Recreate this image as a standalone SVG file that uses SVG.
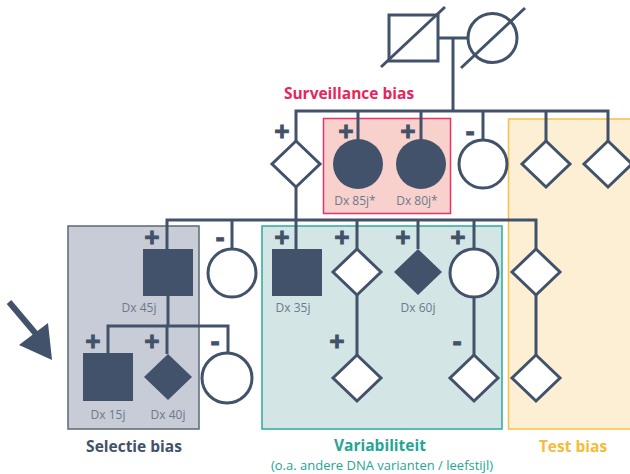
<svg xmlns="http://www.w3.org/2000/svg" width="630" height="474" viewBox="0 0 630 474">
  <style>
    .ln { fill: none; stroke: #41526a; stroke-width: 3; }
    .open { fill: #ffffff; stroke: #41526a; stroke-width: 3; }
    .aff { fill: #41526a; stroke: none; }
    .sign { font-family: "Open Sans", "Liberation Sans", sans-serif; font-weight: bold; font-size: 27px; fill: #41526a; stroke: #41526a; stroke-width: 0.8; text-anchor: middle; }
    .dx { font-family: "Open Sans", "Liberation Sans", sans-serif; font-size: 12px; fill: #6b7a8c; text-anchor: middle; }
    .cap { font-family: "Open Sans", "Liberation Sans", sans-serif; font-weight: bold; font-size: 15.5px; text-anchor: middle; }
    .sub { font-family: "Open Sans", "Liberation Sans", sans-serif; font-size: 13px; fill: #26a594; text-anchor: middle; }
  </style>
  <defs>
    <path id="dia" d="M0,-23 L24,0 L0,23 L-24,0 Z"/>
  </defs>

  <rect width="630" height="474" fill="#ffffff"/>

  <!-- bias areas -->
  <g id="area-selectie">
    <rect x="68" y="226" width="131" height="203" fill="#c8ccd6" stroke="#5b6778" stroke-width="1.5"/>
    <text class="cap" x="134" y="452" fill="#41526a">Selectie bias</text>
  </g>
  <g id="area-surveillance">
    <rect x="323.5" y="118.5" width="127" height="95" fill="#f8d1cd" stroke="#e8336a" stroke-width="1.5"/>
    <text class="cap" x="349" y="99" fill="#e8245a">Surveillance bias</text>
  </g>
  <g id="area-variabiliteit">
    <rect x="262" y="226" width="240" height="203" fill="#d3e6e5" stroke="#2aab9b" stroke-width="1.5"/>
    <text class="cap" x="380" y="451" fill="#26a594">Variabiliteit</text>
    <text class="sub" x="382" y="470">(o.a. andere DNA varianten / leefstijl)</text>
  </g>
  <g id="area-test">
    <rect x="508.5" y="119" width="130" height="310" fill="#fdefd4" stroke="#f7c04a" stroke-width="1.5"/>
    <text class="cap" x="573" y="452" fill="#f5bc3a">Test bias</text>
  </g>

  <!-- connectors -->
  <g id="connectors">
    <path class="ln" d="M438,38 H468 M453,38 V111"/>
    <path class="ln" d="M296,141 V111 H608 V141 M358,111 V140 M421,111 V140 M483,111 V140 M546,111 V141"/>
    <path class="ln" d="M296,186 V249"/>
    <path class="ln" d="M167,249 V220 H536 V249 M232,220 V249 M357,220 V249 M418,220 V249 M474,220 V249"/>
    <path class="ln" d="M168,296 V326 M108,353 V326 H228 V354 M167,326 V354"/>
    <path class="ln" d="M357,295 V355 M474,297 V355 M536,295 V355"/>
  </g>

  <!-- grandparents -->
  <g id="grandfather">
    <rect class="open" x="389" y="15" width="49" height="46"/>
    <path class="ln" d="M381,67 L445,7"/>
  </g>
  <g id="grandmother">
    <circle class="open" cx="492.5" cy="38" r="24.5"/>
    <path class="ln" d="M461,68 L525,8"/>
  </g>

  <!-- second generation -->
  <g id="g2-1"><use href="#dia" class="open" x="296" y="164"/><text class="sign" x="282" y="141">+</text></g>
  <g id="g2-2"><circle class="aff" cx="358" cy="164" r="25"/><text class="sign" x="346" y="141">+</text><text class="dx" x="355" y="205">Dx 85j*</text></g>
  <g id="g2-3"><circle class="aff" cx="421" cy="164" r="25"/><text class="sign" x="408" y="141">+</text><text class="dx" x="417" y="205">Dx 80j*</text></g>
  <g id="g2-4"><circle class="open" cx="483" cy="164" r="24"/><text class="sign" x="470" y="141">-</text></g>
  <g id="g2-5"><use href="#dia" class="open" x="546" y="164"/></g>
  <g id="g2-6"><use href="#dia" class="open" x="608" y="164"/></g>

  <!-- third generation -->
  <g id="g3-1"><rect class="aff" x="143" y="249" width="50" height="47"/><text class="sign" x="152" y="247">+</text><text class="dx" x="139" y="312">Dx 45j</text></g>
  <g id="g3-2"><circle class="open" cx="232" cy="273" r="24"/><text class="sign" x="220" y="247">-</text></g>
  <g id="g3-3"><rect class="aff" x="272" y="249" width="50" height="47"/><text class="sign" x="282" y="247">+</text><text class="dx" x="293" y="312">Dx 35j</text></g>
  <g id="g3-4"><use href="#dia" class="open" x="357" y="272"/><text class="sign" x="342" y="247">+</text></g>
  <g id="g3-5"><use href="#dia" class="aff" x="418" y="272"/><text class="sign" x="403" y="247">+</text><text class="dx" x="418" y="312">Dx 60j</text></g>
  <g id="g3-6"><circle class="open" cx="474" cy="273" r="24"/><text class="sign" x="458" y="247">+</text></g>
  <g id="g3-7"><use href="#dia" class="open" x="536" y="272"/></g>

  <!-- fourth generation -->
  <g id="g4-1"><rect class="aff" x="83" y="353" width="50" height="48"/><text class="sign" x="93" y="351">+</text><text class="dx" x="108" y="419">Dx 15j</text></g>
  <g id="g4-2"><use href="#dia" class="aff" x="168" y="377"/><text class="sign" x="152" y="351">+</text><text class="dx" x="168" y="419">Dx 40j</text></g>
  <g id="g4-3"><circle class="open" cx="227" cy="378" r="25"/><text class="sign" x="215" y="351">-</text></g>
  <g id="g4-4"><use href="#dia" class="open" x="357" y="378"/><text class="sign" x="337" y="351">+</text></g>
  <g id="g4-5"><use href="#dia" class="open" x="474" y="378"/><text class="sign" x="457" y="351">-</text></g>
  <g id="g4-6"><use href="#dia" class="open" x="536" y="378"/></g>

  <!-- proband arrow -->
  <g id="proband-arrow">
    <path d="M9,302 L36,334" stroke="#41526a" stroke-width="6" fill="none"/>
    <path d="M52,360 L19,345 L48,323 Z" fill="#41526a"/>
  </g>
</svg>
